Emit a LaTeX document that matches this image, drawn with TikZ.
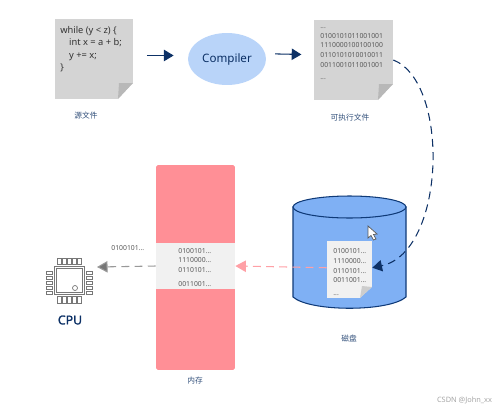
\documentclass[tikz,border=0pt]{standalone}
\usepackage{fontspec}
\setmainfont{Noto Sans}
\newfontfamily\cjk{Noto Sans CJK SC}
\newfontfamily\cpufont[FakeBold=1.5]{Noto Sans}
\usetikzlibrary{shapes.geometric, arrows.meta}

\definecolor{inkblue}{HTML}{0F3A78}
\definecolor{diskblue}{HTML}{7FB0F4}
\definecolor{memred}{HTML}{FF8F96}
\definecolor{sheetgray}{HTML}{D4D4D4}
\definecolor{foldgray}{HTML}{B8B8B8}
\definecolor{slotgray}{HTML}{F1F1F1}
\definecolor{chipgray}{HTML}{777777}

\begin{document}
\begin{tikzpicture}[x=0.02cm, y=-0.02cm,
    sheet/.style={fill=sheetgray, minimum width=1.58cm, minimum height=1.6cm, inner sep=0pt},
    codetext/.style={font=\fontsize{5.3}{7}\selectfont, text=black!80, align=left, anchor=north west, inner sep=0pt},
    bintext/.style={font=\fontsize{3.9}{5.6}\selectfont, text=black!65, align=left, anchor=north west, inner sep=0pt},
    caption/.style={font=\cjk\fontsize{4.4}{5}\selectfont, text=inkblue!70!gray, inner sep=0pt},
    flow/.style={inkblue!85!black, line width=0.6pt, -{Triangle[length=5.5pt, width=6.5pt]}},
    pin/.style={draw=chipgray, line width=0.4pt, fill=white}]
  \useasboundingbox (0,0) rectangle (499,409);

  % source file
  \node[sheet] (source) at (94,59) {};
  \fill[white] (source.south east) -- (118,99) -- (133,83) -- cycle;
  \fill[foldgray] (118,99) -- (133,83) -- (119,83) -- cycle;
  \node[codetext] (sourcetext) at (60,26) {while (y < z) \{\\\hspace{5pt}int x = a + b;\\\hspace{5pt}y += x;\\\}};
  \node[caption] (sourcelabel) at (86,116) {源文件};

  % compiler
  \node[ellipse, fill=diskblue!55!white, minimum width=1.56cm, minimum height=1.04cm, inner sep=0pt,
    font=\fontsize{6.6}{8}\selectfont, text=inkblue!85!black] (compiler) at (227,59) {Compiler};

  % executable file
  \node[sheet] (binary) at (353.5,60) {};
  \fill[white] (binary.south east) -- (378,100) -- (393,84) -- cycle;
  \fill[foldgray] (378,100) -- (393,84) -- (379,84) -- cycle;
  \node[bintext] (binarytext) at (320,27) {...\\0100101011001001\\1110000100100100\\0110101010010011\\0011001011001001\\[1pt]...};
  \node[caption] (binarylabel) at (350,118) {可执行文件};

  % memory
  \node[fill=memred, rounded corners=1pt, minimum width=1.58cm, minimum height=4.1cm, inner sep=0pt] (memory) at (195.5,267.5) {};
  \node[fill=slotgray, minimum width=1.58cm, minimum height=0.92cm, inner sep=0pt] (slot) at (195.5,266) {};
  \node[bintext, font=\fontsize{3.9}{5.4}\selectfont] (slottext) at (178,248) {0100101...\\1110000...\\0110101...\\[2.4pt]0011001...};
  \node[caption] (memorylabel) at (195,381) {内存};

  % disk
  \path[draw=inkblue, line width=0.6pt, fill=diskblue] (293,207) -- (293,297) .. controls (310,312) and (389,312) .. (406,297) -- (406,207) -- cycle;
  \node[ellipse, draw=inkblue, line width=0.6pt, fill=diskblue, minimum width=2.26cm, minimum height=0.44cm, inner sep=0pt] (disk) at (349.5,207) {};
  \node[fill=slotgray, minimum width=0.9cm, minimum height=1.14cm, inner sep=0pt] (copy) at (349.5,269.5) {};
  \fill[diskblue] (copy.south east) -- (360,298) -- (372,287) -- cycle;
  \fill[foldgray!70!white] (360,298) -- (372,287) -- (362,286) -- cycle;
  \node[bintext, font=\fontsize{3.9}{5.5}\selectfont] (copytext) at (333,248.5) {0100101...\\1110000...\\0110101...\\0011001...\\[1.6pt]...};
  \node[caption] (disklabel) at (349,338) {磁盘};
  \filldraw[fill=white, draw=black!65, line width=0.4pt] (368,226) -- (368,238) -- (371,235.5) -- (373.5,240) -- (376,239) -- (373.5,234.5) -- (377,234) -- cycle;

  % cpu
  \node[draw=chipgray, line width=0.5pt, minimum width=0.6cm, minimum height=0.56cm, inner sep=0pt] (cpu) at (69,280) {};
  \draw[chipgray, line width=0.5pt] (56,268) rectangle (82,292);
  \draw[chipgray, line width=0.4pt] (75,288) circle (2.5);
  \foreach \i in {0,...,4} {
    \draw[pin] (57+5*\i,258) rectangle ++(4,6);
    \draw[pin] (57+5*\i,296) rectangle ++(4,7);
    \draw[pin] (46,271+5*\i) rectangle ++(6,3.5);
    \draw[pin] (86,271+5*\i) rectangle ++(6,3.5);
  }
  \node[font=\cpufont\fontsize{7}{8}\selectfont, text=inkblue!85!black, inner sep=0pt] (cpulabel) at (70,320) {CPU};
  \node[bintext, anchor=west] (fetchtext) at (111,248) {0100101...};
  \coordinate (cpuport) at (97,267);

  % connectors
  \draw[flow, shorten <=7.4pt, shorten >=8pt] ([yshift=2pt]source.east) -- ([yshift=2pt]compiler.west);
  \draw[flow, shorten <=5pt, shorten >=7pt] ([yshift=3pt]compiler.east) -- ([yshift=3pt]binary.west);
  \draw[flow, dash pattern=on 4.5pt off 3pt] (binary.east) .. controls (450,82) and (446,252) .. ([yshift=1pt]copy.east);
  \draw[memred!85!white, line width=0.6pt, dash pattern=on 4.5pt off 3pt, -{Triangle[length=6pt, width=6.5pt]}] ([yshift=1pt]copy.west) -- (slot.east);
  \draw[chipgray!75!white, line width=0.6pt, dash pattern=on 4.5pt off 3pt, -{Triangle[length=6pt, width=6.5pt, fill=chipgray]}] (slot.west) -- (cpuport);

  \node[font=\fontsize{4.2}{5}\selectfont, text=black!35, inner sep=0pt] (mark) at (464.5,400) {CSDN @John\_xx};
\end{tikzpicture}
\end{document}
